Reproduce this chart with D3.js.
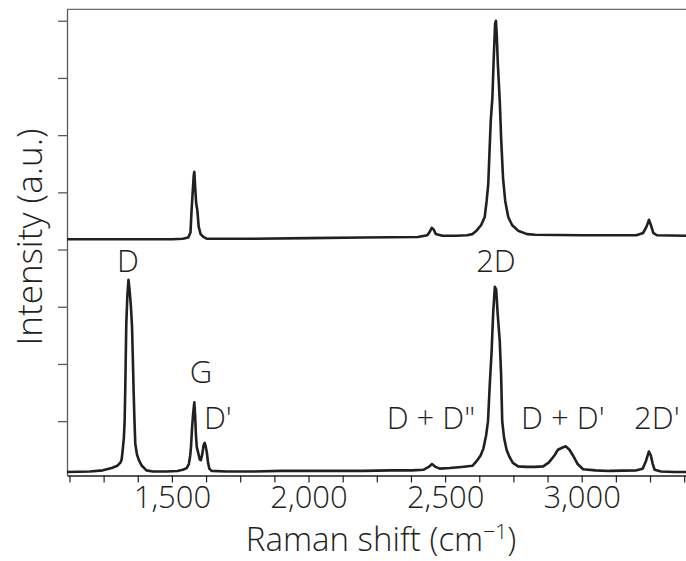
<!DOCTYPE html>
<html lang="en">
<head>
  <meta charset="utf-8">
  <title>Raman spectra</title>
  <script type="text/javascript" src="https://cdn.jsdelivr.net/npm/d3@7"></script>
  <style>
    body { margin: 0; background: #fff; }
    text { font-family: "Open Sans", "Noto Sans", sans-serif; font-weight: 300; fill: #231f20; }
  </style>
</head>
<body>
  <script type="text/javascript">
    // bottom spectrum: [Raman shift, intensity]
    let shiftBottom = [1116, 1200, 1247, 1280, 1300, 1312, 1316, 1320, 1324, 1327, 1329, 1331, 1333, 1337, 1341, 1345, 1350, 1354, 1357, 1360, 1363, 1366, 1372, 1379, 1390, 1407, 1430, 1480, 1520, 1540, 1554, 1562, 1567, 1570, 1574, 1578, 1582, 1585, 1588, 1591, 1596, 1602, 1606, 1611, 1616, 1620, 1624, 1628, 1632, 1637, 1645, 1700, 1800, 1900, 2000, 2100, 2200, 2300, 2380, 2420, 2440, 2452, 2465, 2480, 2517, 2560, 2600, 2615, 2630, 2640, 2650, 2657, 2663, 2670, 2676, 2682, 2687, 2692, 2700, 2705, 2709, 2716, 2725, 2735, 2748, 2767, 2798, 2830, 2859, 2880, 2900, 2913, 2930, 2942, 2955, 2968, 2985, 3005, 3050, 3100, 3200, 3223, 3235, 3246, 3253, 3260, 3267, 3290, 3340, 3400];
    let intBottom = [0.11, 0.12, 0.14, 0.18, 0.22, 0.28, 0.33, 0.5, 0.7, 1.0, 1.5, 2.1, 2.7, 3.2, 3.47, 3.3, 3.0, 2.65, 2.1, 1.5, 1.0, 0.6, 0.42, 0.32, 0.22, 0.14, 0.12, 0.12, 0.13, 0.15, 0.18, 0.25, 0.4, 0.56, 0.9, 1.15, 1.33, 1.1, 0.75, 0.55, 0.45, 0.33, 0.32, 0.42, 0.58, 0.62, 0.55, 0.45, 0.28, 0.17, 0.13, 0.12, 0.12, 0.13, 0.13, 0.13, 0.13, 0.14, 0.14, 0.15, 0.2, 0.25, 0.2, 0.17, 0.18, 0.2, 0.22, 0.3, 0.4, 0.52, 0.75, 1.0, 1.6, 2.2, 2.9, 3.35, 3.3, 2.9, 2.4, 1.8, 1.0, 0.7, 0.5, 0.38, 0.27, 0.21, 0.2, 0.2, 0.21, 0.28, 0.4, 0.5, 0.54, 0.56, 0.5, 0.4, 0.25, 0.16, 0.14, 0.13, 0.14, 0.17, 0.3, 0.47, 0.4, 0.25, 0.15, 0.12, 0.11, 0.11];

    // top spectrum (plotted with an offset)
    let shiftTop = [1116, 1300, 1500, 1540, 1560, 1568, 1572, 1576, 1580, 1582, 1585, 1589, 1593, 1598, 1605, 1615, 1627, 1640, 1800, 2000, 2200, 2400, 2435, 2445, 2451, 2458, 2466, 2490, 2540, 2580, 2600, 2615, 2632, 2645, 2652, 2658, 2662, 2667, 2673, 2678, 2683, 2686, 2689, 2693, 2700, 2705, 2712, 2720, 2731, 2745, 2767, 2800, 2830, 3000, 3200, 3225, 3238, 3246, 3253, 3262, 3275, 3400];
    let intTop = [0.13, 0.13, 0.13, 0.14, 0.16, 0.25, 0.64, 0.95, 1.25, 1.31, 1.05, 0.75, 0.64, 0.35, 0.22, 0.17, 0.14, 0.14, 0.14, 0.15, 0.16, 0.17, 0.2, 0.27, 0.33, 0.3, 0.22, 0.19, 0.19, 0.2, 0.22, 0.28, 0.38, 0.52, 0.8, 1.1, 1.6, 2.2, 2.6, 3.3, 3.9, 3.95, 3.7, 3.2, 2.55, 1.9, 1.2, 0.8, 0.52, 0.38, 0.28, 0.22, 0.21, 0.2, 0.2, 0.24, 0.36, 0.47, 0.38, 0.24, 0.2, 0.19];
    let topOffset = 4.05;

    let xTicks = [1125, 1250, 1375, 1500, 1625, 1750, 1875, 2000, 2125, 2250, 2375, 2500, 2625, 2750, 2875, 3000, 3125, 3250, 3375];
    let xLabelled = [1500, 2000, 2500, 3000];
    let yTicks = [1, 2, 3, 4, 5, 6, 7, 8];

    // peak labels: text, shift of label centre, level of label baseline
    let peakNames = ["D", "2D", "G", "D'", "D + D\"", "D + D'", "2D'"];
    let peakShift = [1339, 2686, 1606, 1668, 2448, 2931, 3275];
    let peakLevel = [3.61, 3.61, 1.67, 0.86, 0.86, 0.86, 0.86];

    let w = 686;
    let h = 561;

    let xScale = d3.scaleLinear().domain([1116, 3400]).range([67, 691]);
    let yScale = d3.scaleLinear().domain([0.05, 8.2]).range([475.5, 9.3]);

    let svg = d3.select("body").append("svg")
      .attr("width", w)
      .attr("height", h);

    // frame top
    svg.append("line")
      .attr("x1", xScale.range()[0]).attr("x2", xScale.range()[1])
      .attr("y1", yScale(8.2)).attr("y2", yScale(8.2))
      .attr("stroke", "#6d6e71").attr("stroke-width", 1.3);

    let xAxis = d3.axisBottom(xScale)
      .tickValues(xTicks)
      .tickSize(7)
      .tickSizeOuter(0)
      .tickFormat(function(d) { return xLabelled.includes(d) ? d3.format(",")(d) : ""; });

    let gx = svg.append("g")
      .attr("transform", "translate(0," + yScale(0.05) + ")")
      .call(xAxis);
    gx.select(".domain").attr("stroke", "#231f20").attr("stroke-width", 1.3);
    gx.selectAll(".tick line").attr("stroke", "#231f20").attr("stroke-width", 1.2);
    gx.selectAll(".tick text")
      .attr("y", 10)
      .attr("dy", "0.71em")
      .style("font-size", "31px");

    let yAxis = d3.axisLeft(yScale)
      .tickValues(yTicks)
      .tickSize(9)
      .tickSizeOuter(0)
      .tickFormat("");

    let gy = svg.append("g")
      .attr("transform", "translate(" + xScale.range()[0] + ",0)")
      .call(yAxis);
    gy.select(".domain").attr("stroke", "#58595b").attr("stroke-width", 1.3);
    gy.selectAll(".tick line").attr("stroke", "#58595b").attr("stroke-width", 1.3);

    let line = d3.line()
      .x(function(d) { return xScale(d[0]); })
      .y(function(d) { return yScale(d[1]); });

    let bottomData = shiftBottom.map(function(s, i) { return [s, intBottom[i]]; });
    let topData = shiftTop.map(function(s, i) { return [s, intTop[i] + topOffset]; });

    let plot = svg.append("g");
    plot.append("clipPath").attr("id", "clip")
      .append("rect")
      .attr("x", xScale.range()[0]).attr("y", 0)
      .attr("width", w).attr("height", h);

    [bottomData, topData].forEach(function(data) {
      plot.append("path")
        .datum(data)
        .attr("clip-path", "url(#clip)")
        .attr("d", line)
        .attr("fill", "none")
        .attr("stroke", "#231f20")
        .attr("stroke-width", 2.6)
        .attr("stroke-linejoin", "round");
    });

    svg.selectAll(".peak")
      .data(peakNames)
      .enter()
      .append("text")
      .attr("class", "peak")
      .attr("x", function(d, i) { return xScale(peakShift[i]); })
      .attr("y", function(d, i) { return yScale(peakLevel[i]); })
      .attr("text-anchor", "middle")
      .style("font-size", "31px")
      .text(function(d) { return d; });

    // axis titles
    let xt = svg.append("text")
      .attr("x", 381)
      .attr("y", 551)
      .attr("text-anchor", "middle")
      .style("font-size", "33px");
    xt.append("tspan").text("Raman shift (cm");
    xt.append("tspan").text("\u22121").attr("dy", -12).style("font-size", "21px");
    xt.append("tspan").text(")").attr("dy", 12);

    svg.append("text")
      .attr("transform", "translate(42,237) rotate(-90)")
      .attr("text-anchor", "middle")
      .style("font-size", "35px")
      .text("Intensity (a.u.)");
  </script>
</body>
</html>
